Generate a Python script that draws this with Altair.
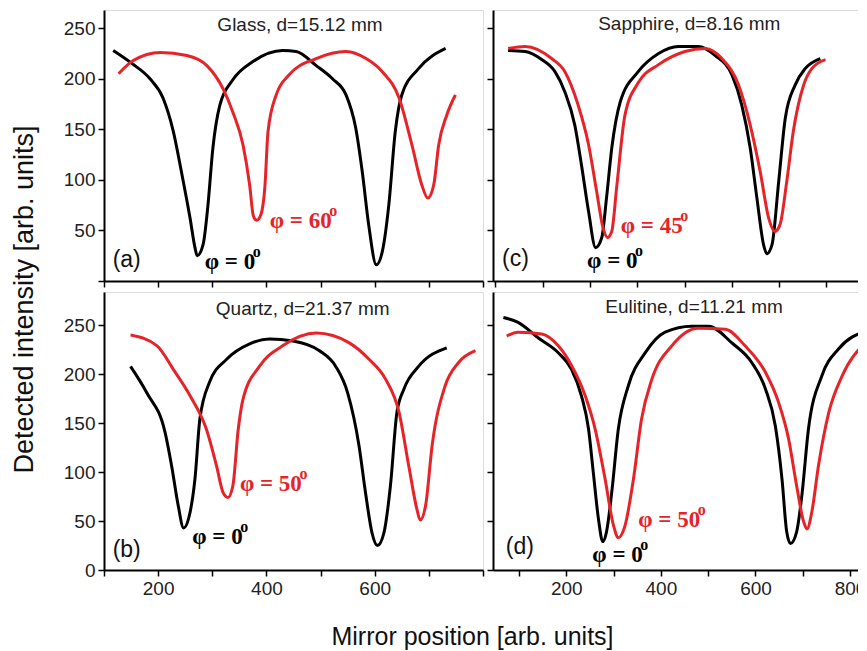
import altair as alt
import pandas as pd

# ---------------- data ----------------
# (a) Glass
a_x0 = [117,152,185,209,228,243,259,268,272,283,292,301,314,338,375,430,455,492,522,547,565,577,589,603,614,626,638,650,681,731]
a_y0 = [228,215,200,181,148,108,62,33,25,36,75,131,174,199,217,228,227,213,200,184,151,108,55,16,29,75,148,184,210,230]
a_x1 = [127,154,204,253,290,320,338,357,369,376,382,390,397,403,418,442,492,547,584,614,645,669,687,698,709,718,733,749]
a_y1 = [205,218,226,223,213,190,167,134,95,64,60,66,92,148,184,204,220,227,220,207,181,134,95,82,95,134,164,184]
# (b) Quartz
b_x0 = [149,179,213,225,237,247,259,268,277,295,326,369,406,449,498,528,550,571,583,595,605,617,629,641,654,681,733]
b_y0 = [208,181,140,106,66,43,59,93,154,192,215,231,236,234,224,208,181,127,79,38,25,38,86,161,185,208,227]
b_x1 = [149,198,228,259,289,308,320,329,338,348,357,387,430,492,553,590,620,645,663,678,684,694,706,730,755,786]
b_y1 = [240,229,205,178,144,106,79,74,86,144,175,208,229,242,232,215,195,161,106,62,51,66,127,188,212,224]
# (c) Sapphire
c_x0 = [77,113,148,176,197,218,232,247,262,275,285,296,314,352,395,437,479,515,550,571,589,603,617,624,635,649,663,684,705,737]
c_y0 = [228,227,219,207,187,154,115,69,33,43,82,131,177,207,225,232,232,223,204,174,131,82,36,27,36,98,161,194,210,220]
c_x1 = [77,113,169,197,225,247,264,278,287,296,307,324,352,395,451,494,529,564,589,610,628,641,652,666,680,702,719,748]
c_y1 = [230,232,220,207,174,135,89,52,43,49,95,164,196,214,227,230,220,194,154,108,62,49,56,98,148,194,210,219]
# (d) Eulitine
d_x0 = [67,98,141,183,211,232,247,257,268,277,285,296,310,331,367,409,465,501,550,592,621,642,656,666,674,687,698,712,740,776,832]
d_y0 = [258,253,237,222,205,178,144,100,52,29,39,79,144,188,222,243,249,249,232,212,185,147,93,39,27,39,76,144,198,226,244]
d_x1 = [74,98,148,183,211,240,261,282,300,310,324,342,359,381,423,479,536,578,621,649,670,687,702,709,719,733,755,783,832]
d_y1 = [239,243,241,229,209,178,144,93,45,33,45,93,154,195,229,247,246,229,202,171,134,86,49,42,59,106,161,198,232]

titles = ["Glass, d=15.12 mm", "Quartz, d=21.37 mm", "Sapphire, d=8.16 mm", "Eulitine, d=11.21 mm"]
letters = ["(a)", "(b)", "(c)", "(d)"]
angles = ["60", "50", "45", "50"]

# annotation anchors in data units: title (x,y), letter (x,y), phi0 (x,y), phi (x,y)
ann = {
    "a": dict(t=(462, 253.5), l=(116, 21), p0=(286, 11.5), p1=(406, 52.7)),
    "b": dict(t=(467, 266.6), l=(116, 20.4), p0=(263, 26.6), p1=(351, 81)),
    "c": dict(t=(460, 254.5), l=(64, 22), p0=(244, 13.2), p1=(315, 47.8)),
    "d": dict(t=(470, 269), l=(72, 23.5), p0=(255, 7.9), p1=(352, 43.6)),
}

BLACK = "#000000"
RED = "#e62328"
SANS = "Liberation Sans"
SERIF = "Liberation Serif"


def panel(key, x0, y0, x1, y1, title, letter, angle, xdom, ydom, w, h,
          xvals, xlabel_expr, yvals, ylabel_expr, xtitle=None, ytitle=None):
    df = pd.concat([
        pd.DataFrame({"x": x0, "y": y0, "s": "a0"}),
        pd.DataFrame({"x": x1, "y": y1, "s": "b1"}),
    ])
    xaxis_kw = dict(values=xvals, tickSize=6, tickWidth=1.5, tickColor=BLACK,
                    domainColor=BLACK, domainWidth=2, grid=False,
                    labelFont=SANS, labelFontSize=19, labelColor="#222",
                    labelPadding=3, title=None)
    if xlabel_expr is None:
        xaxis_kw["labels"] = False
    else:
        xaxis_kw["labelExpr"] = xlabel_expr
    if xtitle:
        xaxis_kw.update(title=xtitle, titleFont=SANS, titleFontSize=25,
                        titleFontWeight="normal", titleColor="#111",
                        titleX=368, titleY=74, titleBaseline="alphabetic",
                        titleAlign="center")
    yaxis_kw = dict(values=yvals, tickSize=6, tickWidth=1.5, tickColor=BLACK,
                    domainColor=BLACK, domainWidth=2, grid=False,
                    labelFont=SANS, labelFontSize=19, labelColor="#222",
                    labelPadding=3, title=None)
    if ylabel_expr is None:
        yaxis_kw["labels"] = False
    else:
        yaxis_kw["labelExpr"] = ylabel_expr
    if ytitle:
        yaxis_kw.update(title=ytitle, titleFont=SANS, titleFontSize=27,
                        titleFontWeight="normal", titleColor="#111",
                        titleX=-71.5, titleY=7, titleAngle=270,
                        titleBaseline="alphabetic", titleAlign="center")

    xs = alt.Scale(domain=xdom, nice=False, zero=False)
    ys = alt.Scale(domain=ydom, nice=False, zero=False)

    lines = alt.Chart(df).mark_line(strokeWidth=3, interpolate="monotone", clip=True).encode(
        x=alt.X("x:Q", scale=xs, axis=alt.Axis(**xaxis_kw)),
        y=alt.Y("y:Q", scale=ys, axis=alt.Axis(**yaxis_kw)),
        color=alt.Color("s:N", scale=alt.Scale(domain=["a0", "b1"], range=[BLACK, RED]), legend=None),
        detail="s:N",
    )
    an = ann[key]
    t_df = pd.DataFrame({"x": [an["t"][0]], "y": [an["t"][1]], "t": [title]})
    title_mark = alt.Chart(t_df).mark_text(font=SANS, fontSize=19, color="#222",
                                           align="center", baseline="middle").encode(
        x=alt.X("x:Q", scale=xs), y=alt.Y("y:Q", scale=ys), text="t:N")
    l_df = pd.DataFrame({"x": [an["l"][0]], "y": [an["l"][1]], "t": [letter]})
    letter_mark = alt.Chart(l_df).mark_text(font=SANS, fontSize=23, color="#111",
                                            align="left", baseline="middle").encode(
        x=alt.X("x:Q", scale=xs), y=alt.Y("y:Q", scale=ys), text="t:N")

    layers = [lines, title_mark, letter_mark]
    for pos, deg, col in [(an["p0"], "0", BLACK), (an["p1"], angle, RED)]:
        pdf = pd.DataFrame({"x": [pos[0]], "y": [pos[1]], "t": ["φ = " + deg], "o": ["o"]})
        main = alt.Chart(pdf).mark_text(font=SERIF, fontSize=23, fontWeight="bold", color=col,
                                        align="left", baseline="alphabetic").encode(
            x=alt.X("x:Q", scale=xs), y=alt.Y("y:Q", scale=ys), text="t:N")
        sup = alt.Chart(pdf).mark_text(font=SERIF, fontSize=16, fontWeight="bold", color=col,
                                       align="left", baseline="alphabetic",
                                       dx=48 + 11.5 * (len(deg) - 1), dy=-12).encode(
            x=alt.X("x:Q", scale=xs), y=alt.Y("y:Q", scale=ys), text="o:N")
        layers += [main, sup]
    return alt.layer(*layers).properties(width=w, height=h)


LW, RW = 379, 376
TH, BH = 271, 278
left_dom = [100, 800]
right_dom = [45, 840]
top_ydom = [0, 268]
bot_ydom = [0, 284]
yt_top = list(range(0, 251, 25))
yt_bot = list(range(0, 276, 25))

pa = panel("a", a_x0, a_y0, a_x1, a_y1, titles[0], letters[0], angles[0],
           left_dom, top_ydom, LW, TH, list(range(100, 801, 50)), None,
           yt_top, "datum.value % 50 == 0 && datum.value > 0 ? datum.label : ''")
pb = panel("b", b_x0, b_y0, b_x1, b_y1, titles[1], letters[1], angles[1],
           left_dom, bot_ydom, LW, BH, list(range(100, 801, 100)),
           "datum.value % 200 == 0 && datum.value < 800 ? datum.label : ''",
           yt_bot, "datum.value % 50 == 0 ? datum.label : ''",
           xtitle="Mirror position [arb. units]", ytitle="Detected intensity [arb. units]")
pc = panel("c", c_x0, c_y0, c_x1, c_y1, titles[2], letters[2], angles[2],
           right_dom, top_ydom, RW, TH, list(range(50, 840, 50)), None, yt_top, None)
pd_ = panel("d", d_x0, d_y0, d_x1, d_y1, titles[3], letters[3], angles[3],
            right_dom, bot_ydom, RW, BH, list(range(100, 840, 100)),
            "datum.value % 200 == 0 ? datum.label : ''", yt_bot, None)

chart = alt.concat(pa, pc, pb, pd_, columns=2, spacing={"row": 11, "column": 10},
                   bounds="flush", align="each").properties(
    padding={"left": 1, "top": 1, "right": -12, "bottom": 0}
).configure_view(stroke=BLACK, strokeWidth=2).configure(background="white")

chart.save("out.html", embed_options={"renderer": "svg", "actions": False})
